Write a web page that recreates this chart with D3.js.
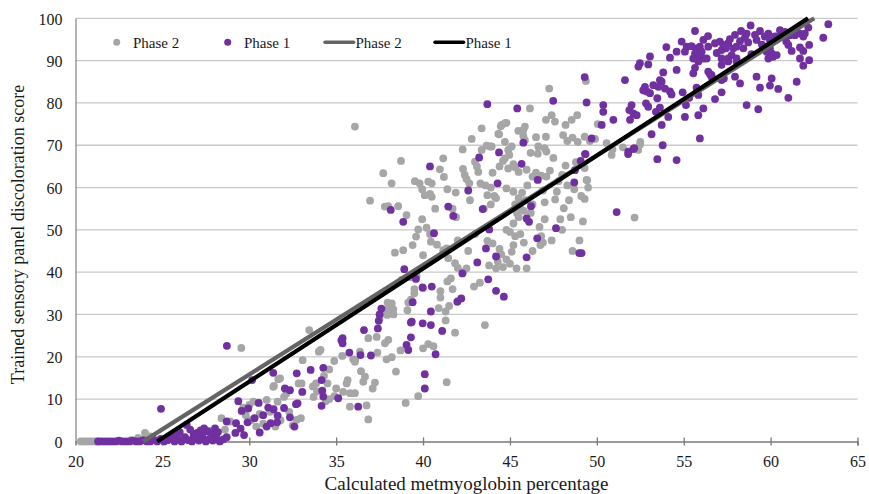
<!DOCTYPE html>
<html>
<head>
<meta charset="utf-8">
<script src="https://cdn.jsdelivr.net/npm/d3@7"></script>
<style>
  body { margin: 0; background: #fff; }
  svg text { font-family: "Liberation Serif", "Times New Roman", serif; fill: #1a1a1a; }
</style>
</head>
<body>
<svg id="chart" width="869" height="494"></svg>
<script>
// Axis ticks
const xTicks = [20, 25, 30, 35, 40, 45, 50, 55, 60, 65];
const yTicks = [0, 10, 20, 30, 40, 50, 60, 70, 80, 90, 100];

// Series names (legend order)
const seriesNames = ["Phase 2", "Phase 1"];

// Linear fits: [slope, intercept]
const fitPhase2 = [2.59, -61.9];
const fitPhase1 = [2.67, -65.95];

// Phase 2 observations: [metmyoglobin %, discoloration score]
const phase2Points = [
  [20.3,0],[20.45,0],[20.6,0],[20.75,0],[20.9,0],[21.05,0],[21.2,0],[21.35,0],[22.5,0],[23.2,0.3],[23.6,0.8],
  [24.0,2.0],[24.3,1.2],[25.2,0.5],[26.0,1.0],[27.0,1.5],[27.8,2.5],[28.1,1.2],[28.4,5.5],[28.6,2.8],[28.9,4.7],
  [29.54,22.1],[29.65,8.0],[29.8,6.2],[30.0,8.6],[30.23,9.4],[30.1,5.0],[30.4,3.5],[30.6,6.5],[30.8,4.2],[31.0,9.8],
  [31.2,7.0],[31.42,13.1],[31.63,9.4],[31.67,14.7],[31.5,3.5],[31.8,5.0],[31.77,14.9],[31.38,12.9],[32.0,10.5],
  [32.15,11.4],[32.3,7.0],[32.5,3.8],[32.73,5.1],[32.84,13.7],[32.97,5.5],[33.01,13.7],[33.07,19.2],[33.45,26.3],
  [33.66,13.0],[33.84,13.7],[33.7,10.5],[33.9,11.8],[34.0,21.2],[34.1,21.6],[34.3,15.5],[34.6,17.0],[34.4,9.5],
  [34.6,10.0],[34.89,19.0],[34.5,13.7],[34.9,10.7],[35.0,12.5],[35.35,20.2],[35.4,11.7],[35.6,13.7],[35.66,14.5],
  [35.8,11.4],[35.79,8.2],[35.98,19.4],[36.08,18.8],[36.08,11.4],[36.1,19.3],[36.37,21.2],[36.43,16.6],[36.56,14.1],
  [36.66,15.3],[36.85,5.2],[36.75,8.5],[36.85,24.4],[37.1,12.5],[37.23,13.9],[37.33,24.7],[37.37,21.0],[37.81,23.2],
  [37.9,19.4],[38.0,24.0],[38.2,19.9],[38.44,16.5],[37.5,29.1],[37.7,30.3],[38.0,31.5],[38.2,32.6],[38.3,30.0],
  [37.96,32.8],[38.29,31.2],[37.94,29.9],[39.0,9.1],[39.72,10.7],[38.7,21.5],[39.1,31.0],[39.3,33.5],[39.5,35.0],
  [39.15,32.8],[39.5,36.0],[40.0,36.2],[40.0,22.0],[40.3,23.0],[40.6,22.5],[41.36,14.0],[41.3,28.6],[41.3,30.7],
  [41.0,34.0],[41.7,36.0],[41.84,25.7],[40.9,31.5],[41.5,32.0],[42.0,33.2],[43.56,27.5],
  [36.08,74.4],[38.73,66.3],[37.71,63.4],[38.19,61.0],[36.95,56.9],[37.8,55.5],[37.99,55.6],[38.57,55.6],[39.05,53.5],
  [39.53,61.5],[40.3,61.4],[40.5,61.0],[39.95,59.6],[40.97,64.3],[41.16,66.9],[41.4,59.6],[41.88,58.8],[40.4,58.5],
  [40.5,57.8],[39.95,52.5],[39.72,50.1],[40.4,49.0],[40.45,47.2],[39.4,46.4],[39.6,48.4],[38.86,45.2],[38.38,44.6],
  [38.77,38.2],[39.3,38.8],[39.63,39.1],[41.0,35.5],[41.4,37.8],[41.6,38.5],[42.0,41.0],[42.3,40.0],[41.45,43.3],
  [41.16,45.2],[41.36,45.6],[41.84,42.1],[42.5,40.9],[42.93,36.6],[43.27,37.5],[40.0,44.0],[40.8,46.5],[40.2,50.5],
  [41.9,53.0],[41.7,55.0],[39.8,61.0],[40.1,58.2],[42.28,69.0],[42.99,66.1],[43.18,63.7],[42.3,64.4],
  [42.5,62.0],[42.66,61.0],[42.4,63.0],
  [43.37,74.0],[43.66,69.9],[43.95,69.7],[44.33,72.7],[44.52,74.8],[44.71,75.2],[44.8,75.3],[44.47,74.5],[45.86,74.4],
  [45.77,73.6],[45.48,73.4],[44.38,72.6],[44.71,70.8],[45.77,72.2],[45.86,71.2],[46.5,71.9],[47.07,72.0],[46.63,69.7],
  [46.19,68.2],[48.06,72.4],[48.3,71.0],[48.6,71.8],[48.9,70.8],[49.3,72.0],[49.6,71.0],[49.9,71.5],[43.85,69.7],
  [43.37,68.9],[44.9,68.9],[45.1,69.7],[44.96,67.7],[44.71,66.9],[44.4,65.0],[44.6,66.3],[44.9,64.5],[45.2,65.5],
  [45.5,63.7],[45.3,64.8],[45.96,64.2],[46.5,63.5],[47.1,62.6],[46.8,62.8],[46.3,62.6],[46.6,68.0],[47.1,68.5],
  [47.0,69.3],[47.5,67.0],[48.2,65.2],[48.8,66.0],[49.3,64.6],[49.41,61.8],[47.26,83.4],[49.37,85.2],[46.15,78.7],
  [47.4,77.1],[47.07,76.0],[47.59,75.6],[48.87,77.1],[48.55,76.0],[48.2,74.8],[50.05,75.0],[43.3,61.0],[43.6,60.5],
  [43.9,60.0],[44.1,58.0],[43.7,58.2],[43.5,55.0],[43.9,56.0],[44.2,57.5],[44.8,59.8],[45.2,59.0],[45.5,57.5],
  [45.7,58.8],[45.9,57.0],[45.3,56.0],[45.6,55.0],[45.4,54.0],[45.8,54.5],[46.3,56.0],[47.0,56.5],[47.6,57.2],
  [48.4,57.0],[49.3,57.3],[48.1,55.1],[48.5,53.0],[47.7,59.0],[48.3,60.5],[47.8,61.5],[48.7,59.6],[49.5,60.0],
  [49.45,61.7],[49.1,58.0],[46.7,50.7],[46.8,48.5],[46.9,47.0],[46.75,46.4],[45.3,48.5],[45.6,49.0],[45.2,46.4],
  [45.8,47.0],[45.38,40.9],[45.96,40.9],[44.4,45.5],[44.5,44.2],[44.8,43.0],[45.0,42.0],[45.1,44.8],[43.7,47.4],
  [44.0,46.8],[43.8,41.6],[44.3,42.5],[44.2,40.9],[44.6,41.2],[44.8,50.0],[45.2,51.5],[45.0,49.5],[45.5,53.0],
  [46.2,54.0],[47.0,52.5],[48.6,45.0],[49.0,47.5],[49.2,52.0],[48.0,50.0],
  [42.8,71.5],[43.1,65.0],[44.0,63.5],[46.0,60.5],[46.9,59.3],[47.3,64.0],[48.0,63.0],[42.7,57.0],[41.2,62.5],
  [40.7,55.0],[42.0,47.5],[42.6,45.0],[43.0,49.0],[46.3,45.0],[47.4,47.5],[47.9,52.5],
  [50.85,67.7],[50.56,70.5],[52.48,70.1],[52.38,68.9],[52.17,52.9],[51.5,69.5],[50.9,69.0],[52.5,70.8]
];

// Phase 1 observations: [metmyoglobin %, discoloration score]
const phase1Points = [
  [21.3,0],[21.5,0],[21.7,0],[21.9,0],[22.1,0],[22.3,0],[22.5,0.2],[22.7,0],[22.9,0],[23.1,0],[23.3,0.2],[23.5,0],
  [23.7,0],[23.9,0.3],[24.1,0],[24.3,0],[24.5,0.4],[24.7,0],[24.9,0.6],[25.1,0],[25.3,0.3],[25.5,0.8],[25.7,0],
  [25.9,0.5],[26.1,0],[26.3,1.0],[26.5,0.3],[26.7,0],[26.9,0.8],[27.1,0.2],[27.3,1.2],[27.5,0],[27.7,0.6],[27.9,0.2],
  [28.1,0.8],[28.3,0],[28.5,0.5],[28.7,1.0],[24.92,7.7],[26.4,3.9],[25.7,1.6],[26.0,2.2],[26.6,2.8],[27.0,2.0],
  [27.4,3.1],[27.6,2.4],[27.9,1.8],[28.03,3.1],[26.8,1.6],[27.2,2.6],[28.2,2.2],
  [28.71,22.6],[28.7,4.7],[29.24,4.3],[29.37,9.5],[29.56,7.2],[29.94,7.8],[29.2,2.0],[29.5,3.0],[29.7,1.5],
  [29.9,4.5],[30.17,14.5],[30.54,9.1],[30.3,5.5],[30.6,2.1],[30.8,6.2],[31.0,3.5],[31.09,8.0],[31.23,4.3],[31.38,16.2],
  [31.63,6.1],[31.4,7.6],[32.0,7.9],[32.05,12.5],[32.34,12.1],[32.34,5.7],[32.69,8.8],[32.73,16.1],[32.78,9.0],
  [32.6,3.5],[31.6,4.5],[33.05,11.7],[33.53,16.9],[34.26,17.4],[34.16,14.5],[34.26,10.6],[34.16,8.4],[34.2,12.0],
  [35.12,10.2],[35.3,23.9],[35.37,23.2],[35.76,21.0],[36.27,8.2],[36.4,20.4],[37.0,20.3],[36.6,26.3],[35.37,24.4],
  [37.4,26.7],[37.45,28.5],[37.5,30.0],[37.6,31.4],[39.05,22.8],[39.15,21.6],[39.3,24.6],[39.3,28.1],[39.98,27.9],
  [40.1,15.9],[40.1,12.5],[40.45,30.7],[40.72,20.6],[41.1,26.1],[40.5,36.6],[41.97,33.0],[42.2,33.8],[39.35,28.3],
  [40.45,27.5],
  [38.14,54.7],[38.86,51.9],[38.92,40.7],[39.59,38.4],[39.97,36.4],[39.4,32.9],[40.4,65.0],[40.63,49.2],[41.45,55.5],
  [41.74,53.3],[42.6,59.3],[42.26,39.7],[43.12,42.3],[43.23,67.1],[43.7,79.7],[43.75,38.3],[44.2,35.6],[44.65,34.2],
  [43.43,54.9],[43.81,50.1],[43.62,45.6],[44.2,43.7],[44.29,61.0],[44.37,68.3],[45.42,78.7],[45.67,65.6],[45.77,70.6],
  [45.96,43.5],[46.1,51.9],[45.96,52.7],[46.21,55.6],[46.57,48.0],[46.6,61.8],[47.49,80.5],[47.65,50.4],[48.7,61.2],
  [48.74,64.1],[48.99,44.5],[49.07,66.3],[49.32,67.9],[49.3,86.1],[49.41,80.1],[49.7,71.6],
  [55.65,97.0],[58.85,98.3],[63.32,98.6],[63.03,95.4],[54.88,94.5],[55.17,93.3],[55.45,93.4],[55.74,92.9],[55.93,93.3],
  [56.13,94.9],[56.03,92.1],[55.65,91.7],[55.84,91.0],[55.55,90.5],[56.13,90.5],[56.41,93.3],[56.32,90.5],[55.84,89.8],
  [54.59,92.1],[55.07,92.1],[56.8,94.1],[57.08,94.5],[57.28,93.7],[57.56,94.1],[57.18,92.5],[57.43,92.9],[57.66,95.1],
  [57.95,96.1],[57.85,92.9],[58.04,93.3],[57.76,91.3],[58.04,90.5],[57.56,90.5],[57.18,90.5],[58.24,94.6],[58.52,95.4],
  [58.71,94.3],[58.43,92.9],[58.62,96.4],[59.1,96.1],[59.39,97.0],[59.67,95.7],[59.87,96.4],[59.96,94.9],[60.25,95.7],
  [59.19,94.9],[60.54,97.2],[60.63,96.4],[60.82,96.8],[61.11,96.0],[61.4,96.0],[61.69,96.4],[61.97,96.4],[61.88,95.7],
  [62.17,97.8],[59.77,93.3],[59.96,92.9],[60.06,91.7],[60.15,90.9],[59.87,90.5],[59.77,92.1],[60.35,91.3],[61.02,93.7],
  [61.21,92.3],[61.69,93.1],[61.88,92.3],[62.22,93.7],[61.69,90.5],[62.22,90.1],[61.88,88.8],[53.06,91.0],[52.48,89.4],
  [52.39,88.6],[52.96,89.1],[54.21,90.7],[54.59,87.8],[55.65,88.3],[55.55,87.0],[56.41,87.4],[56.6,86.6],[57.18,89.0],
  [57.56,89.8],[58.04,89.8],[51.62,85.4],[53.82,87.2],[53.63,85.4],[53.73,85.0],[53.25,84.2],[52.77,83.8],[52.67,83.0],
  [52.87,82.7],[53.06,82.3],[53.54,83.8],[53.92,83.4],[54.21,82.7],[54.3,82.0],[54.94,82.5],[55.32,81.2],[55.74,83.6],
  [55.84,81.9],[56.51,86.8],[56.6,86.2],[57.18,85.4],[57.31,85.8],[53.48,81.1],[52.83,79.9],[52.96,79.1],[53.4,77.9],
  [53.63,78.9],[54.11,76.7],[53.73,74.8],[52.29,77.1],[52.0,79.5],[51.87,78.3],[52.1,77.5],[51.91,76.0],[50.37,79.5],
  [50.37,77.9],[50.95,76.0],[50.28,74.8],[55.07,76.7],[55.13,79.5],[55.84,77.1],[56.13,78.7],[56.8,80.9],[57.18,82.5],
  [58.24,84.6],[57.95,86.2],[59.19,86.2],[60.06,85.8],[59.96,84.1],[59.39,83.6],[60.44,83.3],[61.02,81.2],[61.5,85.0],
  [58.62,79.5],[59.29,78.5],[55.93,71.6],[53.79,70.0],[53.48,66.7],[54.59,66.5],[53.15,72.6],[51.81,68.5],[52.1,69.1],
  [51.8,67.9],[52.15,69.3],[51.14,54.2],[49.12,44.5],[49.35,67.9],
  [56.9,91.8],[58.9,91.5],[59.5,93.8],[56.4,95.8],[54.0,93.2],[60.9,94.5],[58.3,97.0]
];

const svg = d3.select("#chart");
const plot = { left: 75.5, right: 857.5, top: 18.3, bottom: 441.4 };

const x = d3.scaleLinear().domain([20, 65]).range([plot.left, plot.right]);
const y = d3.scaleLinear().domain([0, 100]).range([plot.bottom, plot.top]);

// Horizontal gridlines
svg.append("g")
  .selectAll("line")
  .data(yTicks.filter(d => d > 0))
  .join("line")
  .attr("x1", plot.left).attr("x2", plot.right)
  .attr("y1", d => y(d)).attr("y2", d => y(d))
  .attr("stroke", "#c9c9c9").attr("stroke-width", 1.3);

// Y axis: line and labels only
const yAxis = svg.append("g")
  .attr("transform", `translate(${plot.left},0)`)
  .call(d3.axisLeft(y).tickValues(yTicks).tickSize(0).tickPadding(13));
yAxis.select(".domain").attr("stroke", "#8a8a8a").attr("stroke-width", 1.3);
yAxis.selectAll("text")
  .attr("font-size", 16).attr("dy", "0.36em")
  .style("font-family", '"Liberation Serif", serif').attr("fill", "#1a1a1a");

// X axis with ticks crossing the line
const xAxis = svg.append("g")
  .attr("transform", `translate(0,${plot.bottom})`)
  .call(d3.axisBottom(x).tickValues(xTicks).tickSize(4).tickPadding(10));
xAxis.select(".domain").attr("stroke", "#7a7a7a").attr("stroke-width", 1.5);
xAxis.selectAll(".tick line").attr("y1", -4).attr("y2", 4).attr("stroke", "#7a7a7a").attr("stroke-width", 1.3);
xAxis.selectAll(".tick").filter(d => d === 20).select("line").remove();
xAxis.selectAll("text")
  .attr("font-size", 16)
  .style("font-family", '"Liberation Serif", serif').attr("fill", "#1a1a1a");

// Scatter points: Phase 2 underneath, Phase 1 on top
const dotR = 3.9;
svg.append("g").selectAll("circle")
  .data(phase2Points)
  .join("circle")
  .attr("cx", d => x(d[0])).attr("cy", d => y(d[1]))
  .attr("r", dotR).attr("fill", "#a6a6a6");

svg.append("g").selectAll("circle")
  .data(phase1Points)
  .join("circle")
  .attr("cx", d => x(d[0])).attr("cy", d => y(d[1]))
  .attr("r", dotR).attr("fill", "#7030a0");

// Fitted lines from score 0 to score 100
function fitSegment(fit) {
  const [m, b] = fit;
  return [[(0 - b) / m, 0], [(100 - b) / m, 100]];
}
const lineGen = d3.line().x(d => x(d[0])).y(d => y(d[1]));
svg.append("path")
  .attr("d", lineGen(fitSegment(fitPhase2)))
  .attr("fill", "none").attr("stroke", "#646464").attr("stroke-width", 4.2);
svg.append("path")
  .attr("d", lineGen(fitSegment(fitPhase1)))
  .attr("fill", "none").attr("stroke", "#000").attr("stroke-width", 4.2);

// Legend
const legend = svg.append("g").attr("font-size", 15);
const legendItems = [
  { kind: "dot", color: "#a6a6a6", x: 116.7, label: seriesNames[0] },
  { kind: "dot", color: "#7030a0", x: 227.7, label: seriesNames[1] },
  { kind: "line", color: "#646464", x: 325, label: seriesNames[0] },
  { kind: "line", color: "#000", x: 435, label: seriesNames[1] }
];
const legendY = 42.3;
legendItems.forEach(it => {
  if (it.kind === "dot") {
    legend.append("circle").attr("cx", it.x).attr("cy", legendY).attr("r", 3.5).attr("fill", it.color);
    legend.append("text").attr("x", it.x + 16.3).attr("y", legendY + 5.2).text(it.label);
  } else {
    legend.append("line").attr("x1", it.x).attr("x2", it.x + 28.5)
      .attr("y1", legendY).attr("y2", legendY)
      .attr("stroke", it.color).attr("stroke-width", 3.5).attr("stroke-linecap", "round");
    legend.append("text").attr("x", it.x + 30.5).attr("y", legendY + 5.2).text(it.label);
  }
});

// Axis titles
svg.append("text")
  .attr("x", (plot.left + plot.right) / 2).attr("y", 489.5)
  .attr("text-anchor", "middle").attr("font-size", 19)
  .text("Calculated metmyoglobin percentage");

svg.append("text")
  .attr("transform", `translate(24,234.5) rotate(-90)`)
  .attr("text-anchor", "middle").attr("font-size", 18)
  .text("Trained sensory panel discoloration score");
</script>
</body>
</html>
